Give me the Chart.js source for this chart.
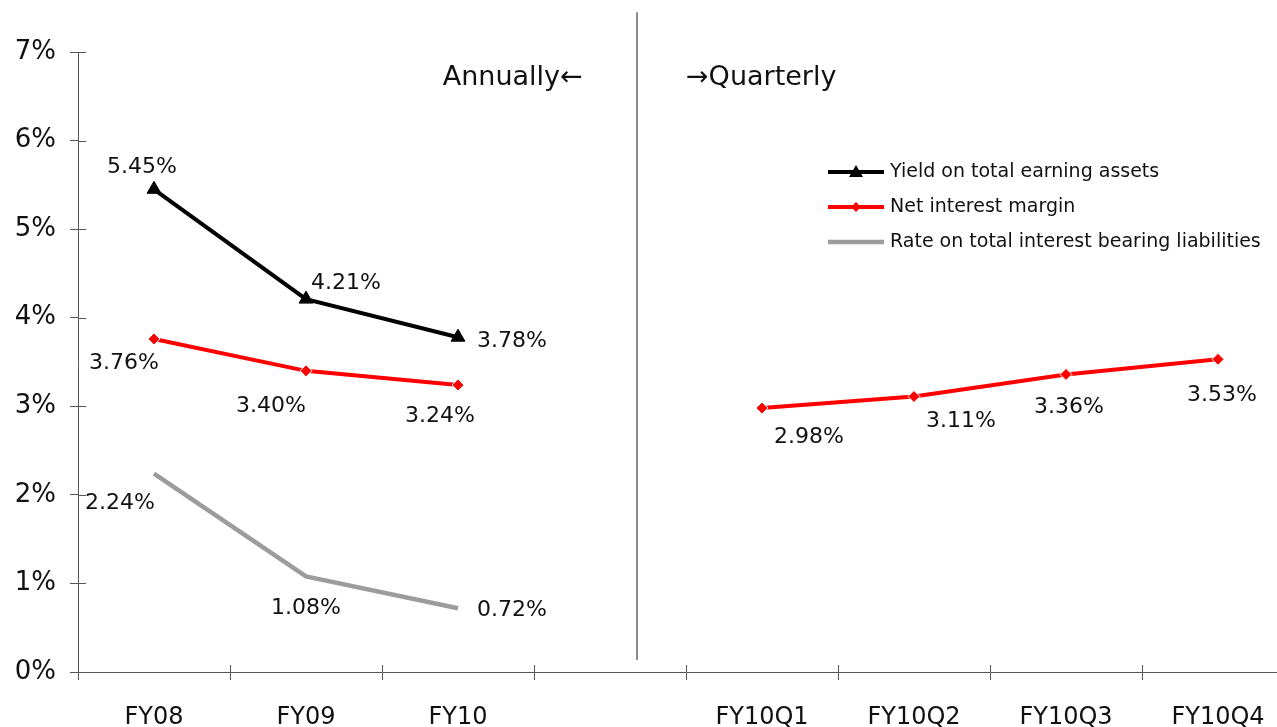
<!DOCTYPE html>
<html><head><meta charset="utf-8">
<script src="https://cdn.jsdelivr.net/npm/chart.js@4.4.1/dist/chart.umd.min.js"></script>
<style>
html,body{margin:0;padding:0;background:#fff;overflow:hidden;}
#wrap{position:relative;width:1310px;height:727px;}
</style></head><body>
<div id="wrap"><canvas id="c"></canvas></div>
<script>
const categories = ['FY08','FY09','FY10','','FY10Q1','FY10Q2','FY10Q3','FY10Q4'];
const yieldOnAssets = [5.45, 4.21, 3.78, null, null, null, null, null];
const netInterestMargin = [3.76, 3.40, 3.24, null, 2.98, 3.11, 3.36, 3.53];
const rateOnLiabilities = [2.24, 1.08, 0.72, null, null, null, null, null];
const seriesNames = ['Yield on total earning assets', 'Net interest margin', 'Rate on total interest bearing liabilities'];
const yTicks = [0, 1, 2, 3, 4, 5, 6, 7];
const annotationTexts = ['Annually\u2190', '\u2192Quarterly'];

const FONT = '"DejaVu Sans", "Liberation Sans", sans-serif';
// label placement offsets (px) relative to each point
const labelOffsets = [
  [[-12,-23],[40,-17],[54,3]],
  [[-30,23],[-35,34],[-18,30],null,[47,28],[47,24],[3,32],[4,35]],
  [[-34,29],[0,31],[54,1]]
];

const dataLabels = {
  id: 'dataLabels',
  afterDatasetsDraw(chart) {
    const ctx = chart.ctx;
    ctx.save();
    ctx.font = '22px ' + FONT;
    ctx.fillStyle = '#111';
    ctx.textAlign = 'center';
    ctx.textBaseline = 'middle';
    chart.data.datasets.forEach((ds, i) => {
      const meta = chart.getDatasetMeta(i);
      meta.data.forEach((el, j) => {
        const v = ds.data[j];
        if (v === null || v === undefined) return;
        const off = (labelOffsets[i] && labelOffsets[i][j]) || [0, -20];
        ctx.fillText(v.toFixed(2) + '%', el.x + off[0], el.y + off[1] + 1);
      });
    });
    ctx.restore();
  }
};

const extras = {
  id: 'extras',
  afterDraw(chart) {
    const ctx = chart.ctx;
    const xs = chart.scales.x, ys = chart.scales.y;
    const a = chart.chartArea;
    ctx.save();
    // inner halves of tick marks
    ctx.strokeStyle = '#555';
    ctx.lineWidth = 1;
    yTicks.forEach(v => {
      const y = Math.round(ys.getPixelForValue(v)) + 0.5;
      ctx.beginPath(); ctx.moveTo(a.left, y); ctx.lineTo(a.left + 8, y); ctx.stroke();
    });
    for (let i = 0; i <= categories.length; i++) {
      const x = Math.round(xs.getPixelForValue(i - 0.5)) + 0.5;
      ctx.beginPath(); ctx.moveTo(x, a.bottom - 7); ctx.lineTo(x, a.bottom); ctx.stroke();
    }
    // divider
    const dx = Math.round(xs.getPixelForValue(3.18));
    ctx.strokeStyle = '#8a8a8a';
    ctx.lineWidth = 2;
    ctx.beginPath(); ctx.moveTo(dx, ys.getPixelForValue(7.45)); ctx.lineTo(dx, ys.getPixelForValue(0.135)); ctx.stroke();
    // annotations
    ctx.fillStyle = '#111';
    ctx.font = '27px ' + FONT;
    ctx.textBaseline = 'middle';
    const ay = ys.getPixelForValue(6.71);
    ctx.textAlign = 'right';
    ctx.fillText(annotationTexts[0], xs.getPixelForValue(2.82), ay);
    ctx.textAlign = 'left';
    ctx.fillText(annotationTexts[1], xs.getPixelForValue(3.5), ay);
    // legend
    const lx = 828, ly = 172, gap = 35, len = 56;
    chart.data.datasets.forEach((ds, i) => {
      const y = ly + i * gap;
      ctx.strokeStyle = ds.borderColor;
      ctx.lineWidth = ds.borderWidth;
      ctx.beginPath(); ctx.moveTo(lx, y); ctx.lineTo(lx + len, y); ctx.stroke();
      const cx = lx + len / 2;
      ctx.fillStyle = ds.borderColor;
      if (ds.pointStyle === 'triangle') {
        ctx.beginPath(); ctx.moveTo(cx, y - 7); ctx.lineTo(cx + 7, y + 5); ctx.lineTo(cx - 7, y + 5); ctx.closePath(); ctx.fill();
      } else if (ds.pointStyle === 'rectRot') {
        ctx.beginPath(); ctx.moveTo(cx, y - 5); ctx.lineTo(cx + 5, y); ctx.lineTo(cx, y + 5); ctx.lineTo(cx - 5, y); ctx.closePath(); ctx.fill();
      }
      ctx.fillStyle = '#111';
      ctx.font = '19px ' + FONT;
      ctx.textAlign = 'left';
      ctx.textBaseline = 'middle';
      ctx.fillText(ds.label, lx + len + 6, y);
    });
    ctx.restore();
  }
};

new Chart(document.getElementById('c'), {
  type: 'line',
  data: {
    labels: categories,
    datasets: [
      { label: seriesNames[0], data: yieldOnAssets, borderColor: '#000000', backgroundColor: '#000000', borderWidth: 4,
        pointStyle: 'triangle', pointRadius: 8, pointBackgroundColor: '#000000', pointBorderColor: '#000000', pointBorderWidth: 1, tension: 0, spanGaps: false },
      { label: seriesNames[1], data: netInterestMargin, borderColor: '#ff0000', backgroundColor: '#ff0000', borderWidth: 4,
        pointStyle: 'rectRot', pointRadius: 6, pointBackgroundColor: '#ff0000', pointBorderColor: '#ffffff', pointBorderWidth: 1, tension: 0, spanGaps: false },
      { label: seriesNames[2], data: rateOnLiabilities, borderColor: '#9c9c9c', backgroundColor: '#9c9c9c', borderWidth: 4.5,
        pointStyle: 'line', pointRadius: 0, tension: 0, spanGaps: false }
    ]
  },
  options: {
    responsive: true, maintainAspectRatio: false, animation: false,
    layout: { padding: { top: 52, right: 16, left: 0, bottom: 0 } },
    plugins: { legend: { display: false }, tooltip: { enabled: false } },
    scales: {
      x: {
        offset: true,
        grid: { offset: true, drawOnChartArea: false, color: '#555', tickLength: 8, tickWidth: 1 },
        border: { color: '#555', width: 1 },
        ticks: { font: { family: FONT, size: 24 }, color: '#111', padding: 23, autoSkip: false, maxRotation: 0 },
        afterFit: s => { s.height = 55; }
      },
      y: {
        min: 0, max: 7,
        afterBuildTicks: s => { s.ticks = yTicks.map(v => ({ value: v })); },
        ticks: { callback: v => v + '%', font: { family: FONT, size: 26 }, color: '#111', padding: 14 },
        grid: { drawOnChartArea: false, color: '#555', tickLength: 8 },
        border: { color: '#555', width: 1 },
        afterFit: s => { s.width = 78; }
      }
    }
  },
  plugins: [dataLabels, extras]
});
</script>
</body></html>
